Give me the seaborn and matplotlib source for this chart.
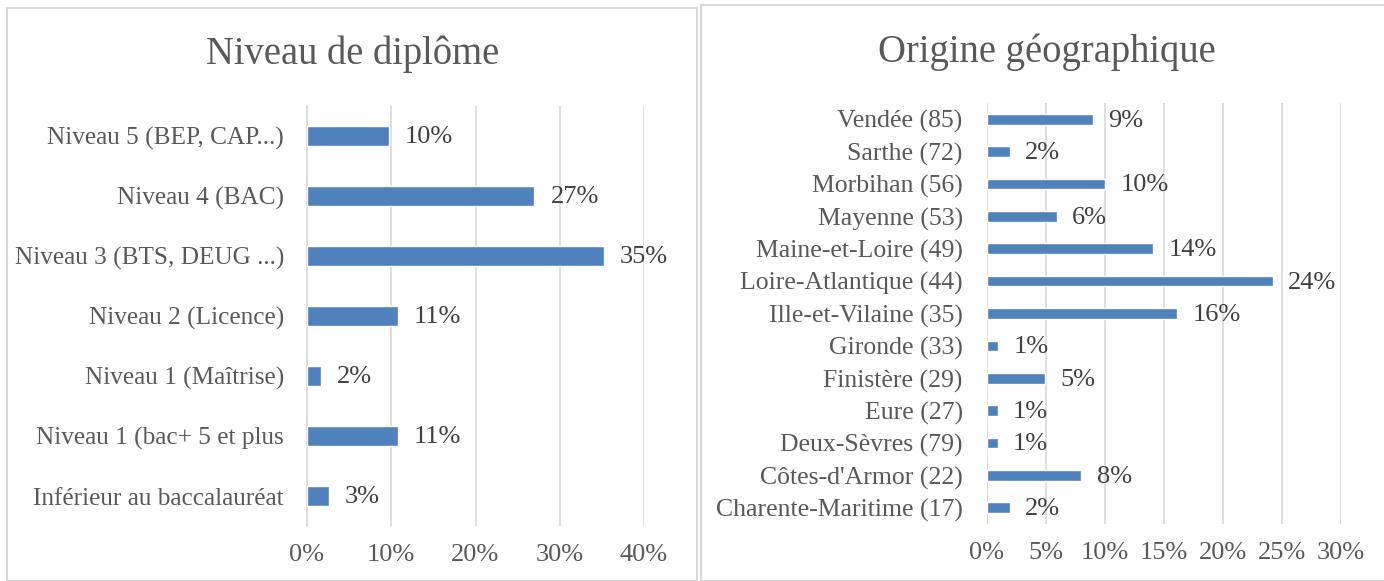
import pandas as pd
import matplotlib
matplotlib.use("Agg")
import matplotlib.pyplot as plt
import seaborn as sns
import numpy as np
from matplotlib.patches import Rectangle
from matplotlib.ticker import FuncFormatter, FixedLocator

# Niveau de diplome (% of respondents), top to bottom
diplome = ['Niveau 5 (BEP, CAP...)', 'Niveau 4 (BAC)', 'Niveau 3 (BTS, DEUG ...)',
           'Niveau 2 (Licence)', 'Niveau 1 (Maîtrise)', 'Niveau 1 (bac+ 5 et plus',
           'Inférieur au baccalauréat']
diplome_pct = [9.7, 27.0, 35.2, 10.8, 1.7, 10.8, 2.6]

# Origine geographique (% of respondents), top to bottom
origine = ['Vendée (85)', 'Sarthe (72)', 'Morbihan (56)', 'Mayenne (53)',
           'Maine-et-Loire (49)', 'Loire-Atlantique (44)', 'Ille-et-Vilaine (35)',
           'Gironde (33)', 'Finistère (29)', 'Eure (27)', 'Deux-Sèvres (79)',
           "Côtes-d'Armor (22)", 'Charente-Maritime (17)']
origine_pct = [9.0, 1.95, 10.0, 5.9, 14.1, 24.2, 16.1, 0.93, 4.9, 0.9, 0.9, 8.0, 1.95]

df1 = pd.DataFrame({'cat': diplome, 'pct': diplome_pct})
df2 = pd.DataFrame({'cat': origine, 'pct': origine_pct})

sns.set_style('white')
plt.rcParams['font.family'] = ['Liberation Serif', 'DejaVu Serif']

W, H = 1384, 581
fig = plt.figure(figsize=(W / 100, H / 100), dpi=100)

blue = '#4f81bd'
grid = '#d9d9d9'
txt = '#595959'
lbl = '#404040'

# panel borders
fig.patches.append(Rectangle((7 / W, 0), 690 / W, 1 - 8 / H, transform=fig.transFigure,
                             fill=False, edgecolor=grid, linewidth=1.5))
fig.patches.append(Rectangle((701 / W, 0), 690 / W, 1 - 5 / H, transform=fig.transFigure,
                             fill=False, edgecolor=grid, linewidth=1.5))


def axes_px(x0, x1, y0, y1):
    return fig.add_axes([x0 / W, 1 - y1 / H, (x1 - x0) / W, (y1 - y0) / H])


def draw(ax, df, xmax, step, label_gap, ysize, ypad):
    sns.barplot(data=df, x='pct', y='cat', orient='h', color=blue, width=0.33,
                saturation=1, ax=ax, zorder=3)
    ax.set_xlim(0, xmax)
    ax.set_ylim(len(df) - 0.5, -0.5)
    ax.set_xticks(np.arange(0, xmax + 0.1, step))
    ax.xaxis.set_major_formatter(FuncFormatter(lambda v, p: f'{v:.0f}%'))
    ax.grid(axis='x', color=grid, linewidth=1.2, zorder=0)
    ax.set_axisbelow(True)
    for s in ['top', 'right', 'bottom', 'left']:
        ax.spines[s].set_visible(False)
    ax.set_xlabel('')
    ax.set_ylabel('')
    ax.tick_params(axis='x', length=0, pad=13, labelsize=19, labelcolor=txt)
    ax.tick_params(axis='y', length=0, pad=ypad, labelsize=ysize, labelcolor=txt)
    for i, v in enumerate(df['pct']):
        ax.annotate(f'{v:.0f}%', (v, i), xytext=(label_gap, -1), textcoords='offset points',
                    ha='left', va='center', fontsize=19, color=lbl)


ax1 = axes_px(307, 644, 106, 526)
draw(ax1, df1, 40, 10, 11.5, 18.2, 16.5)
ax1.spines['left'].set_visible(True)
ax1.spines['left'].set_color(grid)
ax1.spines['left'].set_linewidth(1.2)
ax1.yaxis.set_minor_locator(FixedLocator(np.arange(-0.5, len(df1), 1)))
ax1.tick_params(axis='y', which='minor', length=4, color=grid, width=1.2)

ax2 = axes_px(987, 1341, 103, 524)
draw(ax2, df2, 30, 5, 11, 18.5, 17.5)

fig.text(353 / W, 1 - 54 / H, 'Niveau de diplôme', ha='center', va='center',
         fontsize=27.8, color=txt)
fig.text(1047 / W, 1 - 52 / H, 'Origine géographique', ha='center', va='center',
         fontsize=27.8, color=txt)

fig.savefig('out.png', dpi=100)
